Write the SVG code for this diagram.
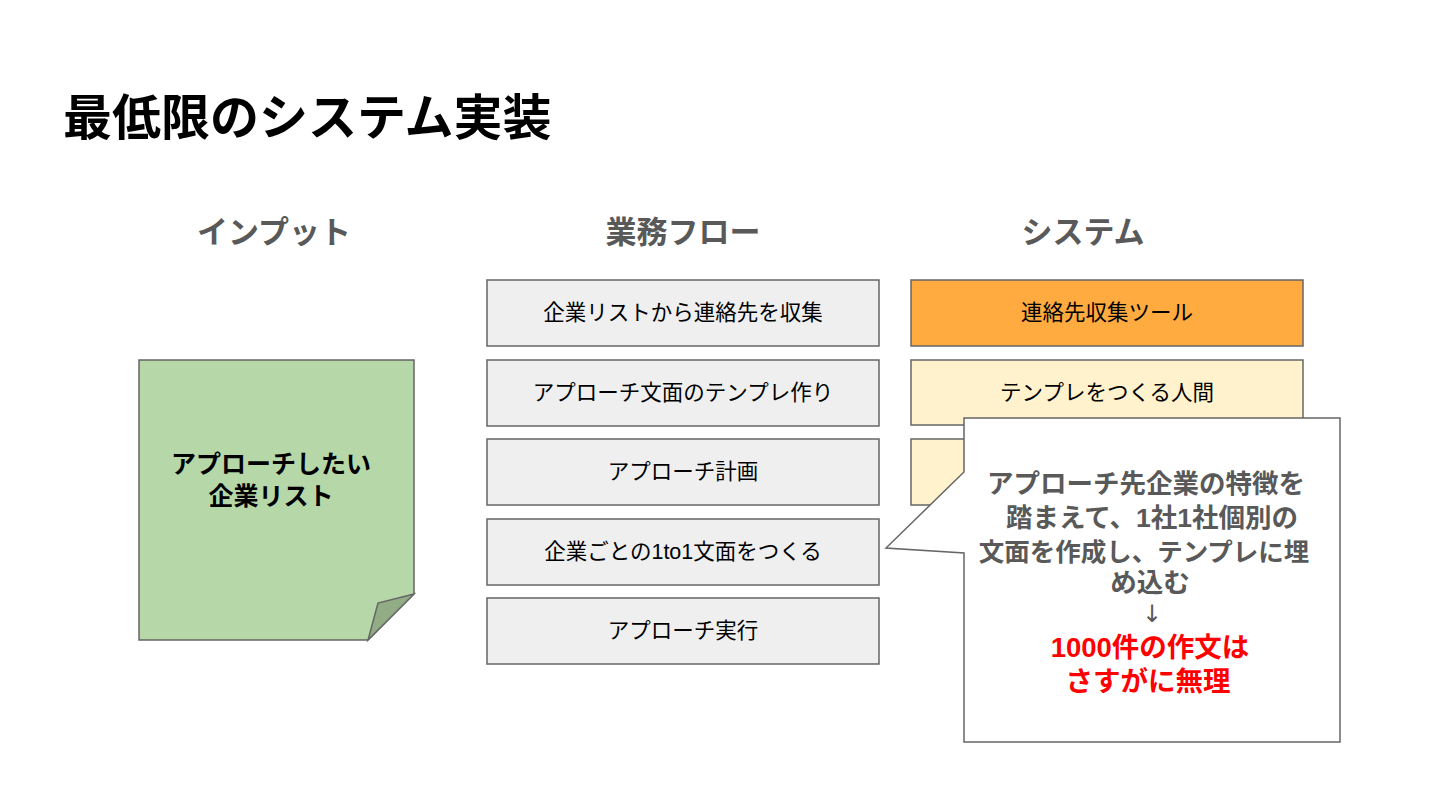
<svg xmlns="http://www.w3.org/2000/svg" width="1440" height="810" viewBox="0 0 1440 810">
<style>
.jp{font-family:"Liberation Sans","Noto Sans CJK JP",sans-serif}
.box{stroke:#666;stroke-width:1.5}
.flow{fill:#efefef}
.lbl{font-size:21.5px;fill:#000;text-anchor:middle}
.hdr{font-size:31px;font-weight:bold;fill:#595959;text-anchor:middle}
.call{font-size:26.5px;font-weight:bold;fill:#595959;text-anchor:middle}
.red{font-size:27.5px;font-weight:bold;fill:#ff0000;text-anchor:middle}
</style>
<rect width="1440" height="810" fill="#fff"/>
<text class="jp" x="63" y="135" font-size="49" font-weight="bold" fill="#000">最低限のシステム実装</text>
<g id="headers" class="jp">
<text class="hdr" x="274" y="243">インプット</text>
<text class="hdr" x="683" y="243">業務フロー</text>
<text class="hdr" x="1083" y="243">システム</text>
</g>
<g id="input">
<path class="box" d="M139,360 H414 V594 L368,640 H139 Z" fill="#b6d7a8"/>
<path class="box" d="M414,594 L378,603 L368,640 Z" fill="#92ad86"/>
<text class="jp" x="271" y="473" font-size="25" font-weight="bold" text-anchor="middle">アプローチしたい</text>
<text class="jp" x="271" y="505" font-size="25" font-weight="bold" text-anchor="middle">企業リスト</text>
</g>
<g id="flow1"><rect class="box flow" x="487" y="280" width="392" height="66"/><text class="jp lbl" x="683" y="320">企業リストから連絡先を収集</text></g>
<g id="flow2"><rect class="box flow" x="487" y="360" width="392" height="66"/><text class="jp lbl" x="683" y="400">アプローチ文面のテンプレ作り</text></g>
<g id="flow3"><rect class="box flow" x="487" y="439" width="392" height="66"/><text class="jp lbl" x="683" y="479">アプローチ計画</text></g>
<g id="flow4"><rect class="box flow" x="487" y="519" width="392" height="66"/><text class="jp lbl" x="683" y="559">企業ごとの1to1文面をつくる</text></g>
<g id="flow5"><rect class="box flow" x="487" y="598" width="392" height="66"/><text class="jp lbl" x="683" y="638">アプローチ実行</text></g>
<g id="sys1"><rect class="box" x="911" y="280" width="392" height="66" fill="#ffab40"/><text class="jp lbl" x="1107" y="320">連絡先収集ツール</text></g>
<g id="sys2"><rect class="box" x="911" y="360" width="392" height="65" fill="#fff2cc"/><text class="jp lbl" x="1107" y="400">テンプレをつくる人間</text></g>
<g id="sys3"><rect class="box" x="911" y="439" width="392" height="66" fill="#fff2cc"/></g>
<g id="connectors"></g>
<g id="callout">
<path class="box" d="M964,418 H1340 V742 H964 V553 L886,548 L964,472 Z" fill="#fff"/>
<g class="jp">
<text class="call" x="1146" y="493">アプローチ先企業の特徴を</text>
<text class="call" x="1152" y="527"> 踏まえて、1社1社個別の</text>
<text class="call" x="1144" y="561" style="font-size:25.5px">文面を作成し、テンプレに埋</text>
<text class="call" x="1150" y="592">め込む</text>
<text x="1152" y="622" font-size="24" font-family="DejaVu Sans, sans-serif" fill="#595959" text-anchor="middle">↓</text>
<text class="red" x="1150" y="657">1000件の作文は</text>
<text class="red" x="1148" y="691">さすがに無理</text>
</g>
</g>
</svg>
